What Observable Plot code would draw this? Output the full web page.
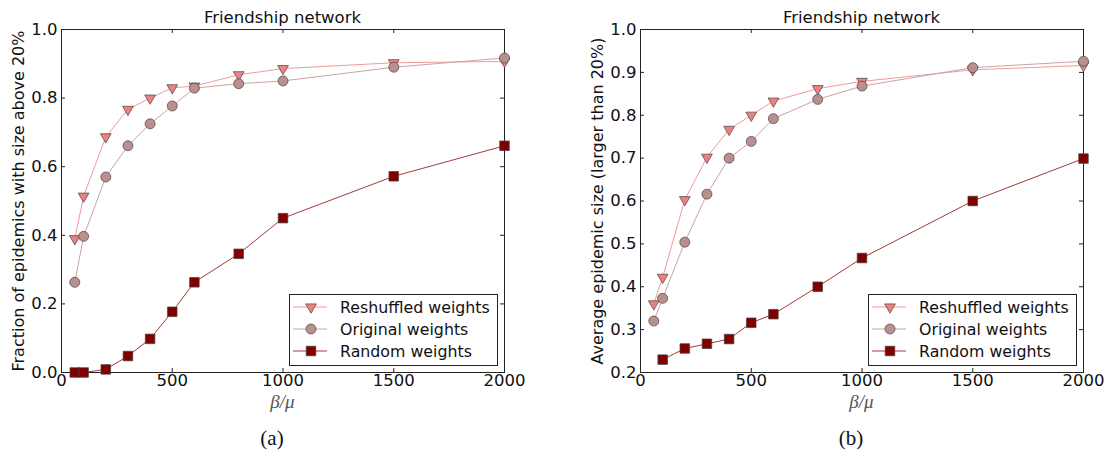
<!DOCTYPE html>
<html><head><meta charset="utf-8">
<script src="https://cdn.jsdelivr.net/npm/d3@7"></script>
<script src="https://cdn.jsdelivr.net/npm/@observablehq/plot@0.6"></script>
<style>
body{margin:0;background:#fff;}
#fig{position:relative;width:1105px;height:455px;background:#fff;font-family:"DejaVu Sans",sans-serif;color:#111;overflow:hidden;}
.abs{position:absolute;}
.title{font-size:16.5px;text-align:center;white-space:nowrap;}
.xlab{font-family:"Liberation Serif",serif;font-style:italic;font-size:19px;color:#555;text-align:center;}
.cap{font-family:"Liberation Serif",serif;font-size:21px;text-align:center;}
.legend{border:1px solid #222;background:#fff;box-sizing:border-box;}
.legend .row{position:absolute;left:0;height:22px;display:flex;align-items:center;font-size:15.8px;white-space:nowrap;}
</style></head><body><div id="fig"></div>
<script>
// ---------- data ----------
const xTicks = [0, 500, 1000, 1500, 2000];
const yTicksA = [0, 0.2, 0.4, 0.6, 0.8, 1.0];
const yTicksB = [0.2, 0.3, 0.4, 0.5, 0.6, 0.7, 0.8, 0.9, 1.0];
const seriesNames = ["Reshuffled weights", "Original weights", "Random weights"];
const titleText = "Friendship network";
const xLabelText = "β/μ";
const yLabelA = "Fraction of epidemics with size above 20%";
const yLabelB = "Average epidemic size (larger than 20%)";
const captions = ["(a)", "(b)"];

const betaMu = [60, 100, 200, 300, 400, 500, 600, 800, 1000, 1500, 2000];
const betaMuRandomB = [100, 200, 300, 400, 500, 600, 800, 1000, 1500, 2000];

const reshuffledA = [0.39, 0.514, 0.687, 0.767, 0.800, 0.830, 0.835, 0.868, 0.886, 0.903, 0.907];
const originalA   = [0.263, 0.397, 0.570, 0.661, 0.725, 0.777, 0.829, 0.842, 0.850, 0.890, 0.917];
const randomA     = [0.0, 0.0, 0.009, 0.048, 0.098, 0.177, 0.263, 0.346, 0.450, 0.572, 0.661];

const reshuffledB = [0.360, 0.422, 0.603, 0.702, 0.767, 0.800, 0.833, 0.862, 0.879, 0.906, 0.916];
const originalB   = [0.320, 0.373, 0.504, 0.616, 0.700, 0.739, 0.792, 0.837, 0.868, 0.911, 0.926];
const randomB     = [0.230, 0.256, 0.267, 0.278, 0.316, 0.336, 0.400, 0.467, 0.600, 0.699];

// ---------- styles ----------
const styles = [
  {symbol: "triangle", rotate: 180, r: 4,   fill: "#f08080", line: "#f29a9a"},
  {symbol: "circle",   rotate: 0,   r: 5,   fill: "#bc8f8f", line: "#c9a3a3"},
  {symbol: "square",   rotate: 0,   r: 5.4, fill: "#800000", line: "#a33a3a"}
];
const edge = "#444";

const W = 520, H = 402, mL = 61, mR = 16, mT = 29, mB = 30;
const innerW = W - mL - mR, innerH = H - mT - mB;

function toRows(xs, ys) { return xs.map((x, i) => ({x, y: ys[i]})); }

function panel(left, yDomain, yTicks, yLabel, seriesData) {
  const marks = [
    Plot.frame({stroke: "#222"}),
    Plot.ruleX(xTicks, {x: d => d, insetTop: innerH - 4, stroke: "#222"}),
    Plot.ruleX(xTicks, {x: d => d, insetBottom: innerH - 4, stroke: "#222"}),
    Plot.ruleY(yTicks, {y: d => d, insetRight: innerW - 4, stroke: "#222"}),
    Plot.ruleY(yTicks, {y: d => d, insetLeft: innerW - 4, stroke: "#222"}),
    Plot.axisX({ticks: xTicks, tickSize: 0, tickPadding: 2, fontSize: 16.5, label: null, fill: "#111", tickFormat: d3.format("d")}),
    Plot.axisY({ticks: yTicks, tickSize: 0, tickPadding: 4, fontSize: 16.5, label: null, tickFormat: d3.format(".1f"), fill: "#111"}),
    Plot.text([yLabel], {text: d => d, frameAnchor: "left", textAnchor: "middle", rotate: -90, dx: -43, fontSize: 16, fill: "#111"})
  ];
  seriesData.forEach((rows, i) => {
    const s = styles[i];
    marks.push(Plot.line(rows, {x: "x", y: "y", stroke: s.line, strokeWidth: 1}));
    marks.push(Plot.dot(rows, {x: "x", y: "y", symbol: s.symbol, r: s.r, rotate: s.rotate, fill: s.fill, stroke: edge, strokeWidth: 0.7}));
  });
  const chart = Plot.plot({
    width: W, height: H, marginLeft: mL, marginRight: mR, marginTop: mT, marginBottom: mB,
    x: {domain: [0, 2000]},
    y: {domain: yDomain},
    style: {fontFamily: "DejaVu Sans, sans-serif", background: "transparent", overflow: "visible"},
    marks
  });
  const wrap = document.createElement("div");
  wrap.className = "abs";
  wrap.style.left = left + "px";
  wrap.style.top = "0px";
  wrap.appendChild(chart);
  fig.appendChild(wrap);
}

function addDiv(cls, text, css) {
  const d = document.createElement("div");
  d.className = "abs " + cls;
  d.textContent = text;
  Object.assign(d.style, css);
  fig.appendChild(d);
  return d;
}

function legend(left, top) {
  const box = document.createElement("div");
  box.className = "abs legend";
  Object.assign(box.style, {left: left + "px", top: top + "px", width: "209px", height: "72px"});
  seriesNames.forEach((name, i) => {
    const s = styles[i];
    const row = document.createElement("div");
    row.className = "row";
    row.style.top = (1 + i * 22.2) + "px";
    const svg = d3.create("svg").attr("width", 50).attr("height", 22);
    svg.append("line").attr("x1", 3).attr("x2", 37).attr("y1", 11).attr("y2", 11)
      .attr("stroke", s.line).attr("stroke-width", 1);
    const sym = {triangle: d3.symbolTriangle, circle: d3.symbolCircle, square: d3.symbolSquare}[s.symbol];
    svg.append("path").attr("d", d3.symbol(sym, Math.PI * s.r * s.r)())
      .attr("transform", `translate(21,11) rotate(${s.rotate})`)
      .attr("fill", s.fill).attr("stroke", edge).attr("stroke-width", 0.7);
    row.appendChild(svg.node());
    const t = document.createElement("span");
    t.textContent = name;
    row.appendChild(t);
    box.appendChild(row);
  });
  fig.appendChild(box);
}

const fig = document.getElementById("fig");

panel(0, [0, 1], yTicksA, yLabelA,
  [toRows(betaMu, reshuffledA), toRows(betaMu, originalA), toRows(betaMu, randomA)]);
panel(579, [0.2, 1], yTicksB, yLabelB,
  [toRows(betaMu, reshuffledB), toRows(betaMu, originalB), toRows(betaMuRandomB, randomB)]);

// titles
addDiv("title", titleText, {left: "61px", width: "443px", top: "8px"});
addDiv("title", titleText, {left: "640px", width: "443px", top: "8px"});
// x labels
addDiv("xlab", xLabelText, {left: "61px", width: "443px", top: "391px"});
addDiv("xlab", xLabelText, {left: "640px", width: "443px", top: "391px"});
// captions
addDiv("cap", captions[0], {left: "232px", width: "80px", top: "426px"});
addDiv("cap", captions[1], {left: "811px", width: "80px", top: "426px"});
// legends
legend(289, 294);
legend(868, 294);
</script></body></html>
